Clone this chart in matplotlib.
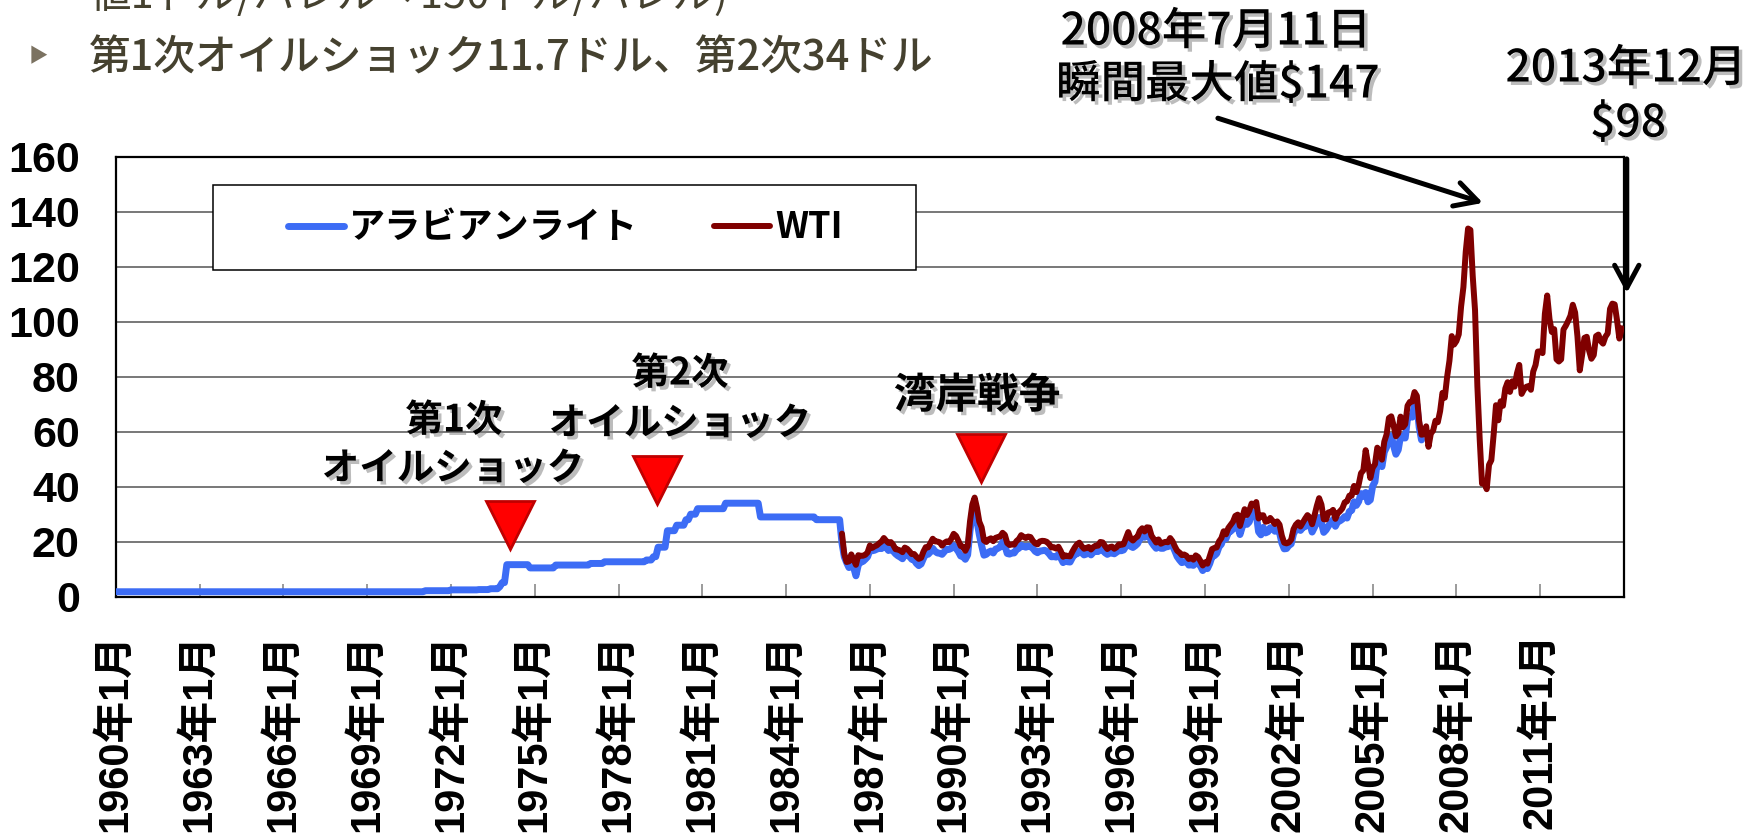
import numpy as np
import matplotlib
matplotlib.use("Agg")
import matplotlib.pyplot as plt
from matplotlib import font_manager, patheffects
from matplotlib.font_manager import FontProperties
from matplotlib.patches import Rectangle

# アラビアンライト公示価格 (改定年, 改定月, ドル/バレル)
al_post_year = [1960, 1971, 1972, 1973, 1973, 1973, 1973, 1974, 1974, 1975, 1977, 1977,
                1979, 1979, 1979, 1979, 1980, 1980, 1980, 1980, 1981, 1983, 1985]
al_post_month = [1, 2, 1, 1, 6, 10, 11, 1, 11, 10, 1, 7,
                 1, 4, 6, 10, 2, 6, 8, 11, 11, 2, 2]
al_post_price = [1.80, 2.18, 2.48, 2.59, 2.90, 3.65, 5.12, 11.65, 10.46, 11.51, 12.09, 12.70,
                 13.34, 14.55, 18.00, 24.00, 26.00, 28.00, 30.00, 32.00, 34.00, 29.00, 28.00]

# アラビアンライト スポット 月次 (1986年1月〜2006年10月)
al_spot = [
    19.5, 14.5, 12.4, 10.6, 12.1, 10.7, 7.6, 11.5, 12.6, 12.8, 13.6, 14.5,   # 1986
    16.9, 16.7, 16.9, 17.3, 17.6, 17.5, 18.4, 17.9, 16.8, 17.3, 16.6, 15.6,  # 1987
    14.9, 14.4, 13.8, 15.4, 15.3, 14.6, 13.6, 13.4, 12.1, 11.3, 11.9, 13.9,  # 1988
    15.6, 15.4, 16.3, 17.6, 16.5, 15.9, 15.8, 15.4, 16.4, 17.3, 17.2, 17.6,  # 1989
    18.6, 17.6, 16.4, 14.8, 14.6, 13.6, 15.2, 23.9, 30.4, 31.3, 27.5, 22.6,  # 1990
    18.6, 15.1, 15.4, 16.2, 16.6, 15.9, 17.3, 17.6, 18.1, 19.9, 18.6, 15.7,  # 1991
    15.5, 15.9, 15.9, 17.2, 17.6, 18.7, 18.3, 18.0, 18.4, 18.2, 17.6, 16.5,  # 1992
    16.0, 16.6, 16.7, 16.9, 16.5, 15.6, 14.5, 14.6, 14.4, 15.4, 14.1, 12.4,  # 1993
    13.0, 12.7, 12.6, 14.2, 15.4, 15.6, 16.6, 16.0, 15.2, 15.5, 16.1, 15.2,  # 1994
    16.2, 16.6, 16.4, 17.3, 17.0, 16.0, 15.4, 15.8, 16.0, 15.6, 16.2, 16.8,  # 1995
    16.7, 17.0, 18.4, 19.6, 18.3, 17.9, 18.5, 19.3, 21.0, 22.2, 21.6, 22.4,  # 1996
    22.4, 19.8, 18.6, 17.6, 18.6, 17.6, 17.6, 18.1, 18.2, 19.0, 18.6, 16.7,  # 1997
    14.6, 13.4, 12.4, 12.6, 13.2, 11.5, 11.6, 11.4, 12.4, 12.1, 11.2, 9.5,   # 1998
    10.6, 10.2, 12.0, 14.6, 14.9, 15.7, 18.1, 19.1, 21.5, 21.1, 23.3, 23.8,  # 1999
    24.6, 25.8, 26.0, 22.6, 25.4, 27.4, 26.3, 27.2, 30.3, 30.7, 29.9, 23.6,  # 2000
    22.5, 25.2, 23.2, 23.6, 25.1, 25.1, 23.8, 24.4, 23.3, 19.5, 17.4, 17.5,  # 2001
    18.6, 19.2, 22.8, 24.4, 24.6, 24.1, 25.2, 25.5, 27.2, 26.6, 23.5, 25.2,  # 2002
    27.1, 28.8, 26.9, 23.4, 24.3, 25.7, 26.9, 28.0, 25.6, 27.3, 27.6, 28.2,  # 2003
    29.1, 28.6, 31.0, 31.4, 34.5, 33.2, 34.6, 37.5, 36.5, 37.9, 34.5, 35.2,  # 2004
    40.2, 41.8, 49.1, 49.6, 47.3, 52.6, 54.4, 57.9, 58.5, 54.9, 51.8, 53.4,  # 2005
    58.4, 57.8, 57.7, 64.9, 65.5, 65.3, 69.8, 69.9, 61.6, 57.0,              # 2006
]

# WTI 月次 (1986年1月〜2013年12月)
wti = [
    22.93, 15.46, 12.61, 12.84, 15.38, 13.43, 11.59, 15.10, 14.87, 14.90, 15.22, 16.11,  # 1986
    18.65, 17.75, 18.30, 18.68, 19.44, 20.07, 21.34, 20.31, 19.53, 19.86, 18.85, 17.28,  # 1987
    17.13, 16.80, 16.20, 17.86, 17.42, 16.53, 15.50, 15.52, 14.54, 13.77, 14.14, 16.38,  # 1988
    18.02, 17.94, 19.48, 21.07, 20.12, 20.05, 19.78, 18.58, 19.59, 20.10, 19.86, 21.10,  # 1989
    22.86, 22.11, 20.39, 18.43, 18.20, 16.70, 18.45, 27.31, 33.51, 36.04, 32.33, 27.28,  # 1990
    25.23, 20.48, 19.90, 20.83, 21.23, 20.19, 21.40, 21.69, 21.89, 23.23, 22.46, 19.50,  # 1991
    18.79, 19.01, 18.92, 20.23, 20.98, 22.39, 21.78, 21.34, 21.88, 21.69, 20.34, 19.41,  # 1992
    19.03, 20.09, 20.32, 20.25, 19.95, 19.09, 17.89, 18.01, 17.50, 18.15, 16.61, 14.52,  # 1993
    15.03, 14.78, 14.68, 16.42, 17.89, 19.06, 19.66, 18.38, 17.45, 17.72, 18.07, 17.16,  # 1994
    18.04, 18.57, 18.54, 19.90, 19.74, 18.45, 17.33, 18.02, 18.23, 17.43, 17.99, 19.03,  # 1995
    18.86, 19.09, 21.33, 23.50, 21.17, 20.42, 21.30, 21.90, 23.97, 24.88, 23.71, 25.23,  # 1996
    25.13, 22.18, 20.97, 19.70, 20.82, 19.26, 19.66, 19.95, 19.80, 21.33, 20.19, 18.33,  # 1997
    16.72, 16.06, 15.12, 15.35, 14.91, 13.72, 14.17, 13.47, 15.03, 14.46, 13.00, 11.35,  # 1998
    12.52, 12.01, 14.68, 17.31, 17.72, 17.92, 20.10, 21.28, 23.80, 22.69, 25.00, 26.10,  # 1999
    27.26, 29.37, 29.84, 25.72, 28.79, 31.82, 29.70, 31.26, 33.88, 33.11, 34.42, 28.44,  # 2000
    29.59, 29.61, 27.25, 27.49, 28.63, 27.60, 26.43, 27.37, 26.20, 22.17, 19.64, 19.39,  # 2001
    19.72, 20.72, 24.53, 26.18, 27.04, 25.52, 26.97, 28.39, 29.66, 28.84, 26.35, 29.46,  # 2002
    32.95, 35.83, 33.51, 28.17, 28.11, 30.66, 30.76, 31.57, 28.31, 30.34, 31.11, 32.13,  # 2003
    34.31, 34.69, 36.74, 36.75, 40.28, 38.03, 40.78, 44.90, 45.94, 53.28, 48.47, 43.15,  # 2004
    46.84, 48.15, 54.19, 52.98, 49.83, 56.35, 59.00, 64.99, 65.59, 62.26, 58.32, 59.41,  # 2005
    65.49, 61.63, 62.69, 69.44, 70.84, 70.95, 74.41, 73.04, 63.80, 58.89, 59.08, 61.96,  # 2006
    54.51, 59.28, 60.44, 63.98, 63.45, 67.49, 74.12, 72.36, 79.92, 85.80, 94.77, 91.69,  # 2007
    92.97, 95.39, 105.45, 112.58, 125.40, 133.88, 133.37, 116.67, 104.11, 76.61, 57.31, 41.12,  # 2008
    41.71, 39.09, 47.94, 49.65, 59.03, 69.64, 64.15, 71.05, 69.41, 75.72, 77.99, 74.47,  # 2009
    78.33, 76.39, 81.20, 84.29, 73.74, 75.34, 76.32, 76.60, 75.24, 81.89, 84.25, 89.15,  # 2010
    89.17, 88.58, 102.86, 109.53, 100.90, 96.26, 97.30, 86.33, 85.52, 86.32, 97.16, 98.56,  # 2011
    100.27, 102.20, 106.16, 103.32, 94.65, 82.30, 87.90, 94.13, 94.51, 89.49, 86.53, 87.86,  # 2012
    94.76, 95.31, 92.94, 92.02, 94.51, 95.77, 104.67, 106.57, 106.29, 100.54, 93.86, 97.63,  # 2013
]

tick_years = list(range(1960, 2012, 3))
tick_labels = [f"{y}年1月" for y in tick_years]

# イベント (▼の位置)
event_x = [1974.12, 1979.39, 1990.98]
event_y = [25.9, 42.4, 50.6]

W, H = 1752, 839
fig = plt.figure(figsize=(W / 100, H / 100), dpi=100)
fig.patch.set_facecolor("white")

names = {f.name for f in font_manager.fontManager.ttflist}
narrow = "Liberation Sans Narrow" if "Liberation Sans Narrow" in names else "Liberation Sans"
ysize = 36 if narrow == "Liberation Sans Narrow" else 31
JP = "Noto Sans CJK JP"

ax = fig.add_axes([115.8 / W, 1 - 596.7 / H, (1624 - 115.8) / W, (596.7 - 156.7) / H])

# 公示価格を月次に展開
post_start = np.array(al_post_year) + (np.array(al_post_month) - 1) / 12
x_old = 1960 + np.arange(312) / 12
idx = np.searchsorted(post_start, x_old + 1e-6, side="right") - 1
al_old = np.array(al_post_price)[idx]
x_spot = 1986 + np.arange(len(al_spot)) / 12
x_al = np.concatenate([x_old, x_spot])
y_al = np.concatenate([al_old, al_spot])
x_wti = 1986 + np.arange(len(wti)) / 12

blue = "#3c6cf5"
red = "#800000"
l1, = ax.plot(x_al, y_al, color=blue, lw=5, solid_joinstyle="round",
              solid_capstyle="round", zorder=3)
l2, = ax.plot(x_wti, wti, color=red, lw=4.3, solid_joinstyle="round",
              solid_capstyle="round", zorder=4)

ax.plot(event_x, event_y, "v", ms=34, mfc="#ff0000", mec="#c00000", mew=2,
        clip_on=False, zorder=6)

ax.set_xlim(1960, 2014)
ax.set_ylim(0, 160)
ax.set_yticks(range(0, 161, 20))
ax.set_xticks(tick_years)
ax.set_xticklabels(tick_labels, rotation=90, fontproperties=FontProperties(
    family=["Liberation Sans", JP], weight="bold", size=30))
for t in ax.get_yticklabels():
    t.set_fontproperties(FontProperties(family=[narrow], weight="bold", size=ysize))
ax.tick_params(axis="y", length=0, pad=26)
ax.tick_params(axis="x", direction="in", length=9.5, width=1.1, color="#808080", pad=26)
ax.grid(axis="y", color="#6d6d6d", lw=1.3)
ax.set_axisbelow(True)
for s in ax.spines.values():
    s.set_linewidth(1.6)
    s.set_color("black")

# 凡例
fig.patches.append(Rectangle((213 / W, 1 - 270 / H), (916 - 213) / W, 85 / H,
                             transform=fig.transFigure, facecolor="white",
                             edgecolor="black", lw=1.1, zorder=1))
fig.legend([l1, l2], ["アラビアンライト", "WTI"], ncol=2, frameon=False,
           loc="center left", bbox_to_anchor=(288 / W, 1 - 228 / H),
           handlelength=1.55, handletextpad=0.15, columnspacing=2.1,
           borderpad=0, borderaxespad=0,
           prop=FontProperties(family=[JP], weight="bold", size=26))


def ftext(px, py, s, **kw):
    return fig.text(px / W, 1 - py / H, s, **kw)


shadow = [patheffects.withSimplePatchShadow(offset=(2.5, -2.5), shadow_rgbFace="#7a7a7a", alpha=0.5)]

# 上部の本文
txt_col = "#45412f"
ftext(89, 8, "値1ドル/バレル→150ドル/バレル)", ha="left", va="baseline",
      family=[JP], size=30, color=txt_col)
ftext(38, 57, "▶", ha="center", va="center", family=[JP, "DejaVu Sans"],
      size=14, color="#7b7261")
ftext(89, 58, "第1次オイルショック11.7ドル、第2次34ドル", ha="left", va="center",
      family=[JP], weight="medium", size=30, color=txt_col)

# 注記
bold_jp = dict(family=[JP], weight="bold", ha="center", va="center", path_effects=shadow)
ftext(454, 420, "第1次", size=27, **bold_jp)
ftext(453, 468, "オイルショック", size=27, **bold_jp)
ftext(680, 373, "第2次", size=27, **bold_jp)
ftext(680, 423, "オイルショック", size=27, **bold_jp)
ftext(977, 396, "湾岸戦争", size=30, **bold_jp)

reg_jp = dict(family=[JP], weight="medium", ha="center", va="center", path_effects=shadow)
ftext(1216, 32, "2008年7月11日", size=32, **reg_jp)
ftext(1218, 85, "瞬間最大値$147", size=32, **reg_jp)
ftext(1626, 69, "2013年12月", size=32, **reg_jp)
ftext(1628, 124, "$98", size=32, **reg_jp)

arrow = dict(arrowstyle="->,head_length=0.65,head_width=0.35", lw=3.6,
             color="black", mutation_scale=25, shrinkA=0, shrinkB=0)
ax.annotate("", xy=(2008.95, 143.2), xytext=(1999.46, 174),
            arrowprops=arrow, annotation_clip=False)
ax.annotate("", xy=(2014.1, 110.4), xytext=(2014.1, 159.2),
            arrowprops=arrow, annotation_clip=False)

fig.savefig("out.png", dpi=100)
